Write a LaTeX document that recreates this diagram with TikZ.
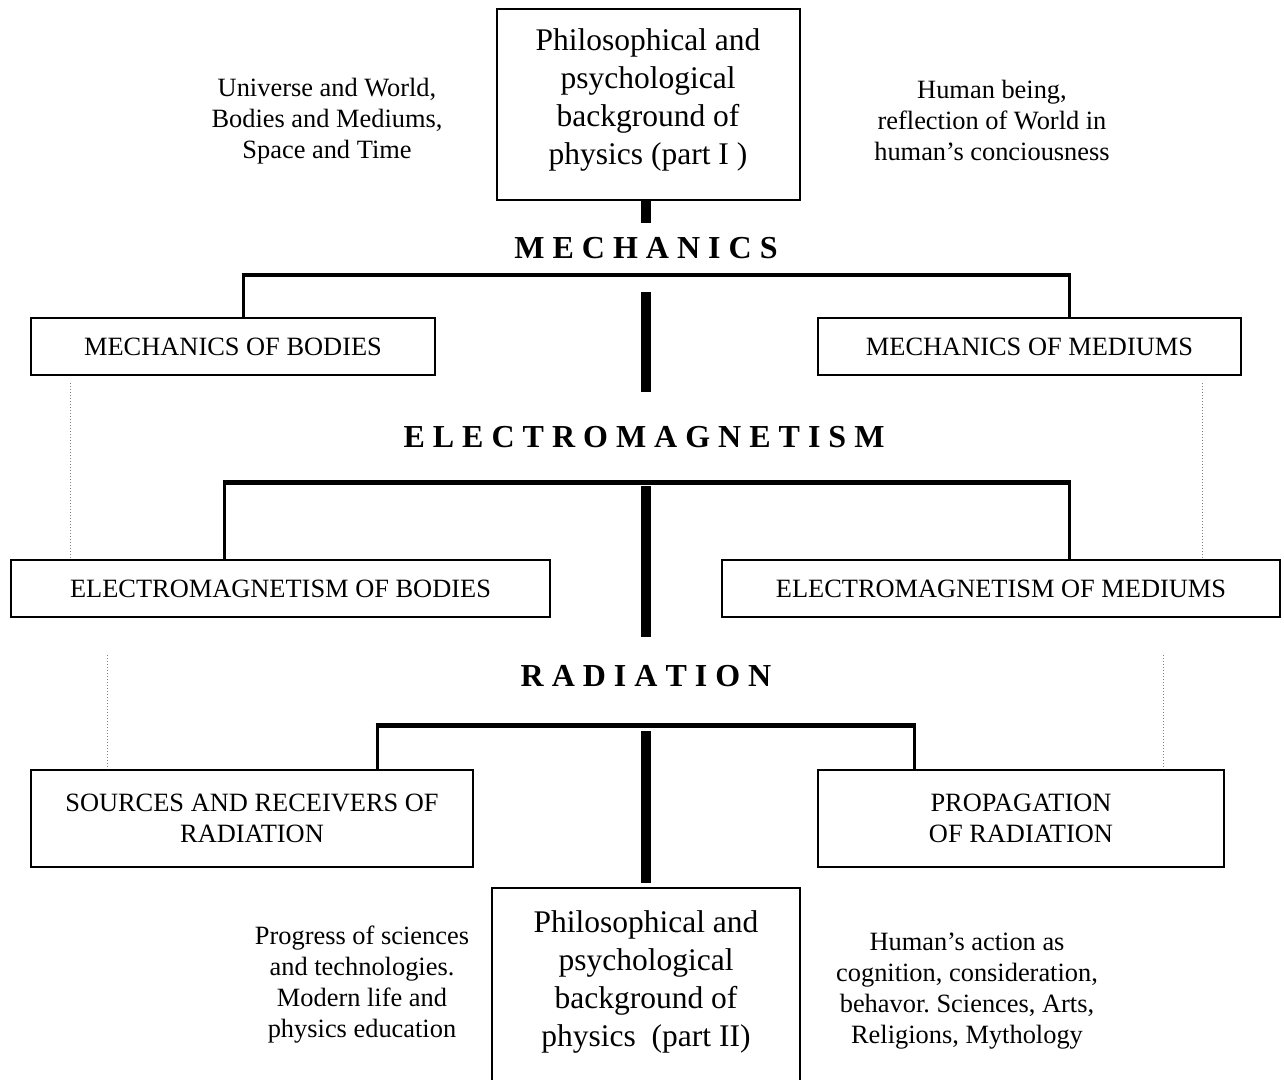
\documentclass[tikz,border=0pt]{standalone}
\usepackage{fontspec}
\setmainfont{Liberation Serif}
\frenchspacing
\begin{document}
\begin{tikzpicture}[x=1pt,y=-1pt,
        box/.style={draw,line width=2pt,inner sep=0pt,align=center,font=\fontsize{26.4}{31}\selectfont},
        bigtext/.style={align=center,font=\fontsize{31.5}{38}\selectfont},
        side/.style={align=center,font=\fontsize{26.4}{31}\selectfont},
        topic/.style={font=\fontsize{32}{38}\selectfont\bfseries},
        spine/.style={line width=10pt},
        fork/.style={line width=3pt},
        forkbar/.style={line width=5pt,shorten <=-1.5pt,shorten >=-1.5pt},
        guide/.style={gray,line width=0.8pt,dash pattern=on 1pt off 2pt}]
        \clip (0,0) rectangle (1284,1079);

        % philosophy part I
        \node[box,minimum width=303,minimum height=191] (phil1) at (648.5,104.5) {};
        \node[bigtext] (phil1txt) at (648,100) {Philosophical and\\psychological\\background of\\physics (part I )};
        \node[side] (world) at (327,121) {Universe and World,\\Bodies and Mediums,\\Space and Time};
        \node[side] (being) at (992,120) {Human being,\\reflection of World in\\human’s conciousness};

        % mechanics
        \node[topic] (mech) at (646,248) {M E C H A N I C S};
        \node[box,minimum width=404,minimum height=57] (mechB) at (233,346.5) {MECHANICS OF BODIES};
        \node[box,minimum width=423,minimum height=57] (mechM) at (1029.5,346.5) {MECHANICS OF MEDIUMS};
        \coordinate (mechL) at (243,275);
        \coordinate (mechR) at (1069,275);
        \draw[fork] (mechL) -- (mechL |- mechB.north);
        \draw[fork] (mechR) -- (mechR |- mechM.north);
        \draw[forkbar,line width=4pt] (mechL) -- (mechR);

        % electromagnetism
        \node[topic] (em) at (644,437) {E L E C T R O M A G N E T I S M};
        \node[box,minimum width=539,minimum height=57] (emB) at (280.5,588.5) {ELECTROMAGNETISM OF BODIES};
        \node[box,minimum width=558,minimum height=57] (emM) at (1001,588.5) {ELECTROMAGNETISM OF MEDIUMS};
        \coordinate (emL) at (224,482);
        \coordinate (emR) at (1069,482);
        \draw[fork] (emL) -- (emL |- emB.north);
        \draw[fork] (emR) -- (emR |- emM.north);
        \draw[forkbar] (emL) -- (emR);

        % radiation
        \node[topic] (rad) at (646,676) {R A D I A T I O N};
        \node[box,minimum width=442,minimum height=97] (srcR) at (252,818.5) {SOURCES AND RECEIVERS OF\\RADIATION};
        \node[box,minimum width=406,minimum height=97] (propR) at (1021,818.5) {PROPAGATION\\OF RADIATION};
        \coordinate (radL) at (377,725);
        \coordinate (radR) at (914,725);
        \draw[fork] (radL) -- (radL |- srcR.north);
        \draw[fork] (radR) -- (radR |- propR.north);
        \draw[forkbar] (radL) -- (radR);

        % philosophy part II
        \node[box,minimum width=308,minimum height=224] (phil2) at (646,1000) {};
        \node[bigtext] (phil2txt) at (646,982) {Philosophical and\\psychological\\background of\\physics\ \ (part II)};
        \node[side] (progress) at (362,985) {Progress of sciences\\and technologies.\\Modern life and\\physics education};
        \node[side] (action) at (967,991) {Human’s action as\\cognition, consideration,\\behavor. Sciences, Arts,\\Religions, Mythology};

        % central spine
        \coordinate (sp1) at (646,223);
        \coordinate (sp2a) at (646,292);
        \coordinate (sp2b) at (646,392);
        \coordinate (sp3a) at (646,486);
        \coordinate (sp3b) at (646,637);
        \coordinate (sp4a) at (646,731);
        \coordinate (sp4b) at (646,883);
        \draw[spine] (phil1.south -| sp1) -- (sp1);
        \draw[spine] (sp2a) -- (sp2b);
        \draw[spine] (sp3a) -- (sp3b);
        \draw[spine] (sp4a) -- (sp4b);

        % dotted guides
        \coordinate (g1) at (70,383);
        \coordinate (g2) at (1202,383);
        \coordinate (g3) at (107,655);
        \coordinate (g4) at (1163,655);
        \draw[guide] (g1) -- (g1 |- emB.north);
        \draw[guide] (g2) -- (g2 |- emM.north);
        \draw[guide] (g3) -- (g3 |- srcR.north);
        \draw[guide] (g4) -- (g4 |- propR.north);
\end{tikzpicture}
\end{document}
